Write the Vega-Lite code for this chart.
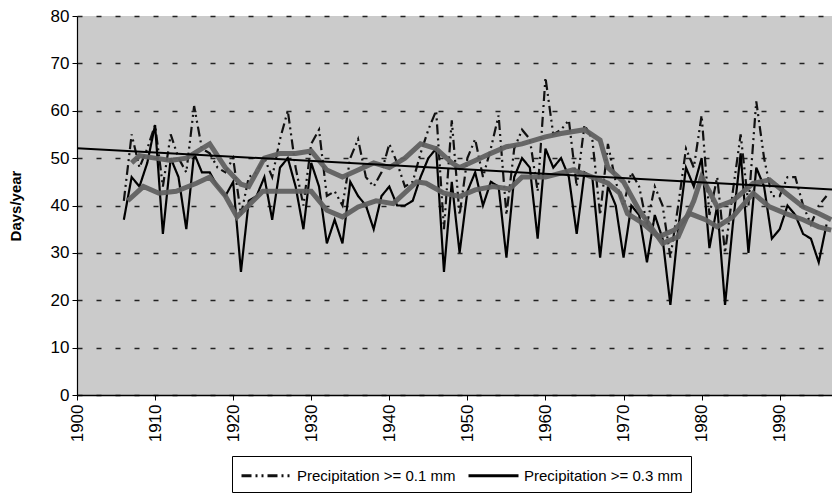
{
  "$schema": "https://vega.github.io/schema/vega-lite/v6.json",
  "width": 755,
  "height": 379,
  "autosize": {"type": "none"},
  "padding": {"left": 77, "top": 16, "right": 0, "bottom": 102},
  "background": "white",
  "view": {"fill": "#cbcbcb", "stroke": null},
  "config": {
    "font": "Liberation Sans",
    "axis": {"labelFont": "Liberation Sans", "labelFontSize": 17, "labelColor": "#000", "domainColor": "#000", "tickColor": "#000", "titleColor": "#000"}
  },
  "datasets": {
    "raw": [
      {"year":1906,"series":"Precipitation >= 0.1 mm","value":41},{"year":1907,"series":"Precipitation >= 0.1 mm","value":55},{"year":1908,"series":"Precipitation >= 0.1 mm","value":48},{"year":1909,"series":"Precipitation >= 0.1 mm","value":52},{"year":1910,"series":"Precipitation >= 0.1 mm","value":57},{"year":1911,"series":"Precipitation >= 0.1 mm","value":44},{"year":1912,"series":"Precipitation >= 0.1 mm","value":55},{"year":1913,"series":"Precipitation >= 0.1 mm","value":50},{"year":1914,"series":"Precipitation >= 0.1 mm","value":47},{"year":1915,"series":"Precipitation >= 0.1 mm","value":61},
      {"year":1916,"series":"Precipitation >= 0.1 mm","value":52},{"year":1917,"series":"Precipitation >= 0.1 mm","value":51},{"year":1918,"series":"Precipitation >= 0.1 mm","value":48},{"year":1919,"series":"Precipitation >= 0.1 mm","value":47},{"year":1920,"series":"Precipitation >= 0.1 mm","value":50},{"year":1921,"series":"Precipitation >= 0.1 mm","value":38},{"year":1922,"series":"Precipitation >= 0.1 mm","value":46},{"year":1923,"series":"Precipitation >= 0.1 mm","value":47},{"year":1924,"series":"Precipitation >= 0.1 mm","value":50},{"year":1925,"series":"Precipitation >= 0.1 mm","value":46},
      {"year":1926,"series":"Precipitation >= 0.1 mm","value":54},{"year":1927,"series":"Precipitation >= 0.1 mm","value":60},{"year":1928,"series":"Precipitation >= 0.1 mm","value":48},{"year":1929,"series":"Precipitation >= 0.1 mm","value":40},{"year":1930,"series":"Precipitation >= 0.1 mm","value":53},{"year":1931,"series":"Precipitation >= 0.1 mm","value":56},{"year":1932,"series":"Precipitation >= 0.1 mm","value":42},{"year":1933,"series":"Precipitation >= 0.1 mm","value":43},{"year":1934,"series":"Precipitation >= 0.1 mm","value":40},{"year":1935,"series":"Precipitation >= 0.1 mm","value":50},
      {"year":1936,"series":"Precipitation >= 0.1 mm","value":54},{"year":1937,"series":"Precipitation >= 0.1 mm","value":46},{"year":1938,"series":"Precipitation >= 0.1 mm","value":44},{"year":1939,"series":"Precipitation >= 0.1 mm","value":47},{"year":1940,"series":"Precipitation >= 0.1 mm","value":53},{"year":1941,"series":"Precipitation >= 0.1 mm","value":49},{"year":1942,"series":"Precipitation >= 0.1 mm","value":44},{"year":1943,"series":"Precipitation >= 0.1 mm","value":45},{"year":1944,"series":"Precipitation >= 0.1 mm","value":51},{"year":1945,"series":"Precipitation >= 0.1 mm","value":56},
      {"year":1946,"series":"Precipitation >= 0.1 mm","value":60},{"year":1947,"series":"Precipitation >= 0.1 mm","value":35},{"year":1948,"series":"Precipitation >= 0.1 mm","value":58},{"year":1949,"series":"Precipitation >= 0.1 mm","value":38},{"year":1950,"series":"Precipitation >= 0.1 mm","value":50},{"year":1951,"series":"Precipitation >= 0.1 mm","value":54},{"year":1952,"series":"Precipitation >= 0.1 mm","value":46},{"year":1953,"series":"Precipitation >= 0.1 mm","value":52},{"year":1954,"series":"Precipitation >= 0.1 mm","value":59},{"year":1955,"series":"Precipitation >= 0.1 mm","value":38},
      {"year":1956,"series":"Precipitation >= 0.1 mm","value":52},{"year":1957,"series":"Precipitation >= 0.1 mm","value":56},{"year":1958,"series":"Precipitation >= 0.1 mm","value":54},{"year":1959,"series":"Precipitation >= 0.1 mm","value":43},{"year":1960,"series":"Precipitation >= 0.1 mm","value":67},{"year":1961,"series":"Precipitation >= 0.1 mm","value":55},{"year":1962,"series":"Precipitation >= 0.1 mm","value":56},{"year":1963,"series":"Precipitation >= 0.1 mm","value":58},{"year":1964,"series":"Precipitation >= 0.1 mm","value":44},{"year":1965,"series":"Precipitation >= 0.1 mm","value":57},
      {"year":1966,"series":"Precipitation >= 0.1 mm","value":54},{"year":1967,"series":"Precipitation >= 0.1 mm","value":38},{"year":1968,"series":"Precipitation >= 0.1 mm","value":53},{"year":1969,"series":"Precipitation >= 0.1 mm","value":45},{"year":1970,"series":"Precipitation >= 0.1 mm","value":40},{"year":1971,"series":"Precipitation >= 0.1 mm","value":47},{"year":1972,"series":"Precipitation >= 0.1 mm","value":44},{"year":1973,"series":"Precipitation >= 0.1 mm","value":36},{"year":1974,"series":"Precipitation >= 0.1 mm","value":44},{"year":1975,"series":"Precipitation >= 0.1 mm","value":40},
      {"year":1976,"series":"Precipitation >= 0.1 mm","value":29},{"year":1977,"series":"Precipitation >= 0.1 mm","value":40},{"year":1978,"series":"Precipitation >= 0.1 mm","value":52},{"year":1979,"series":"Precipitation >= 0.1 mm","value":48},{"year":1980,"series":"Precipitation >= 0.1 mm","value":59},{"year":1981,"series":"Precipitation >= 0.1 mm","value":38},{"year":1982,"series":"Precipitation >= 0.1 mm","value":46},{"year":1983,"series":"Precipitation >= 0.1 mm","value":30},{"year":1984,"series":"Precipitation >= 0.1 mm","value":43},{"year":1985,"series":"Precipitation >= 0.1 mm","value":55},
      {"year":1986,"series":"Precipitation >= 0.1 mm","value":40},{"year":1987,"series":"Precipitation >= 0.1 mm","value":62},{"year":1988,"series":"Precipitation >= 0.1 mm","value":50},{"year":1989,"series":"Precipitation >= 0.1 mm","value":42},{"year":1990,"series":"Precipitation >= 0.1 mm","value":42},{"year":1991,"series":"Precipitation >= 0.1 mm","value":46},{"year":1992,"series":"Precipitation >= 0.1 mm","value":46},{"year":1993,"series":"Precipitation >= 0.1 mm","value":40},{"year":1994,"series":"Precipitation >= 0.1 mm","value":36},{"year":1995,"series":"Precipitation >= 0.1 mm","value":40},{"year":1996,"series":"Precipitation >= 0.1 mm","value":42},
      {"year":1906,"series":"Precipitation >= 0.3 mm","value":37},{"year":1907,"series":"Precipitation >= 0.3 mm","value":46},{"year":1908,"series":"Precipitation >= 0.3 mm","value":44},{"year":1909,"series":"Precipitation >= 0.3 mm","value":49},{"year":1910,"series":"Precipitation >= 0.3 mm","value":57},{"year":1911,"series":"Precipitation >= 0.3 mm","value":34},{"year":1912,"series":"Precipitation >= 0.3 mm","value":50},{"year":1913,"series":"Precipitation >= 0.3 mm","value":46},{"year":1914,"series":"Precipitation >= 0.3 mm","value":35},{"year":1915,"series":"Precipitation >= 0.3 mm","value":51},
      {"year":1916,"series":"Precipitation >= 0.3 mm","value":47},{"year":1917,"series":"Precipitation >= 0.3 mm","value":47},{"year":1918,"series":"Precipitation >= 0.3 mm","value":44},{"year":1919,"series":"Precipitation >= 0.3 mm","value":42},{"year":1920,"series":"Precipitation >= 0.3 mm","value":45},{"year":1921,"series":"Precipitation >= 0.3 mm","value":26},{"year":1922,"series":"Precipitation >= 0.3 mm","value":41},{"year":1923,"series":"Precipitation >= 0.3 mm","value":42},{"year":1924,"series":"Precipitation >= 0.3 mm","value":46},{"year":1925,"series":"Precipitation >= 0.3 mm","value":37},
      {"year":1926,"series":"Precipitation >= 0.3 mm","value":48},{"year":1927,"series":"Precipitation >= 0.3 mm","value":50},{"year":1928,"series":"Precipitation >= 0.3 mm","value":44},{"year":1929,"series":"Precipitation >= 0.3 mm","value":35},{"year":1930,"series":"Precipitation >= 0.3 mm","value":49},{"year":1931,"series":"Precipitation >= 0.3 mm","value":44},{"year":1932,"series":"Precipitation >= 0.3 mm","value":32},{"year":1933,"series":"Precipitation >= 0.3 mm","value":37},{"year":1934,"series":"Precipitation >= 0.3 mm","value":32},{"year":1935,"series":"Precipitation >= 0.3 mm","value":45},
      {"year":1936,"series":"Precipitation >= 0.3 mm","value":42},{"year":1937,"series":"Precipitation >= 0.3 mm","value":40},{"year":1938,"series":"Precipitation >= 0.3 mm","value":35},{"year":1939,"series":"Precipitation >= 0.3 mm","value":42},{"year":1940,"series":"Precipitation >= 0.3 mm","value":44},{"year":1941,"series":"Precipitation >= 0.3 mm","value":40},{"year":1942,"series":"Precipitation >= 0.3 mm","value":40},{"year":1943,"series":"Precipitation >= 0.3 mm","value":41},{"year":1944,"series":"Precipitation >= 0.3 mm","value":46},{"year":1945,"series":"Precipitation >= 0.3 mm","value":50},
      {"year":1946,"series":"Precipitation >= 0.3 mm","value":52},{"year":1947,"series":"Precipitation >= 0.3 mm","value":26},{"year":1948,"series":"Precipitation >= 0.3 mm","value":45},{"year":1949,"series":"Precipitation >= 0.3 mm","value":30},{"year":1950,"series":"Precipitation >= 0.3 mm","value":43},{"year":1951,"series":"Precipitation >= 0.3 mm","value":47},{"year":1952,"series":"Precipitation >= 0.3 mm","value":40},{"year":1953,"series":"Precipitation >= 0.3 mm","value":45},{"year":1954,"series":"Precipitation >= 0.3 mm","value":44},{"year":1955,"series":"Precipitation >= 0.3 mm","value":29},
      {"year":1956,"series":"Precipitation >= 0.3 mm","value":46},{"year":1957,"series":"Precipitation >= 0.3 mm","value":50},{"year":1958,"series":"Precipitation >= 0.3 mm","value":48},{"year":1959,"series":"Precipitation >= 0.3 mm","value":33},{"year":1960,"series":"Precipitation >= 0.3 mm","value":52},{"year":1961,"series":"Precipitation >= 0.3 mm","value":48},{"year":1962,"series":"Precipitation >= 0.3 mm","value":50},{"year":1963,"series":"Precipitation >= 0.3 mm","value":46},{"year":1964,"series":"Precipitation >= 0.3 mm","value":34},{"year":1965,"series":"Precipitation >= 0.3 mm","value":47},
      {"year":1966,"series":"Precipitation >= 0.3 mm","value":46},{"year":1967,"series":"Precipitation >= 0.3 mm","value":29},{"year":1968,"series":"Precipitation >= 0.3 mm","value":44},{"year":1969,"series":"Precipitation >= 0.3 mm","value":40},{"year":1970,"series":"Precipitation >= 0.3 mm","value":29},{"year":1971,"series":"Precipitation >= 0.3 mm","value":40},{"year":1972,"series":"Precipitation >= 0.3 mm","value":38},{"year":1973,"series":"Precipitation >= 0.3 mm","value":28},{"year":1974,"series":"Precipitation >= 0.3 mm","value":38},{"year":1975,"series":"Precipitation >= 0.3 mm","value":33},
      {"year":1976,"series":"Precipitation >= 0.3 mm","value":19},{"year":1977,"series":"Precipitation >= 0.3 mm","value":35},{"year":1978,"series":"Precipitation >= 0.3 mm","value":48},{"year":1979,"series":"Precipitation >= 0.3 mm","value":44},{"year":1980,"series":"Precipitation >= 0.3 mm","value":50},{"year":1981,"series":"Precipitation >= 0.3 mm","value":31},{"year":1982,"series":"Precipitation >= 0.3 mm","value":40},{"year":1983,"series":"Precipitation >= 0.3 mm","value":19},{"year":1984,"series":"Precipitation >= 0.3 mm","value":36},{"year":1985,"series":"Precipitation >= 0.3 mm","value":51},
      {"year":1986,"series":"Precipitation >= 0.3 mm","value":30},{"year":1987,"series":"Precipitation >= 0.3 mm","value":48},{"year":1988,"series":"Precipitation >= 0.3 mm","value":44},{"year":1989,"series":"Precipitation >= 0.3 mm","value":33},{"year":1990,"series":"Precipitation >= 0.3 mm","value":35},{"year":1991,"series":"Precipitation >= 0.3 mm","value":40},{"year":1992,"series":"Precipitation >= 0.3 mm","value":38},{"year":1993,"series":"Precipitation >= 0.3 mm","value":34},{"year":1994,"series":"Precipitation >= 0.3 mm","value":33},{"year":1995,"series":"Precipitation >= 0.3 mm","value":28},{"year":1996,"series":"Precipitation >= 0.3 mm","value":36}
    ],
    "smooth": [
      {"year":1907,"s":"upper","value":49},{"year":1908,"s":"upper","value":50.5},{"year":1910,"s":"upper","value":50},{"year":1912,"s":"upper","value":49.5},{"year":1914,"s":"upper","value":50},{"year":1915,"s":"upper","value":51},{"year":1917,"s":"upper","value":53},{"year":1919,"s":"upper","value":48},{"year":1921,"s":"upper","value":44.5},{"year":1922,"s":"upper","value":44},{"year":1924,"s":"upper","value":50},{"year":1926,"s":"upper","value":51},{"year":1928,"s":"upper","value":51},{"year":1930,"s":"upper","value":51.5},{"year":1932,"s":"upper","value":47.5},{"year":1934,"s":"upper","value":46},{"year":1936,"s":"upper","value":47.5},{"year":1938,"s":"upper","value":49},{"year":1940,"s":"upper","value":48},{"year":1942,"s":"upper","value":50},{"year":1944,"s":"upper","value":53},{"year":1946,"s":"upper","value":52},{"year":1948,"s":"upper","value":49},{"year":1949,"s":"upper","value":48},{"year":1951,"s":"upper","value":49.5},{"year":1953,"s":"upper","value":51},{"year":1955,"s":"upper","value":52.4},{"year":1957,"s":"upper","value":53},{"year":1960,"s":"upper","value":54.5},{"year":1962,"s":"upper","value":55.2},{"year":1965,"s":"upper","value":56},{"year":1967,"s":"upper","value":53.8},{"year":1968,"s":"upper","value":48},{"year":1970,"s":"upper","value":45},{"year":1972,"s":"upper","value":39},{"year":1975,"s":"upper","value":32},{"year":1977,"s":"upper","value":33.4},{"year":1979,"s":"upper","value":41},{"year":1980,"s":"upper","value":46},{"year":1981,"s":"upper","value":43},{"year":1982,"s":"upper","value":39.7},{"year":1984,"s":"upper","value":41},{"year":1986.6,"s":"upper","value":44.7},{"year":1988.7,"s":"upper","value":45.4},{"year":1990.8,"s":"upper","value":42.6},{"year":1993,"s":"upper","value":39.7},{"year":1995,"s":"upper","value":38.3},{"year":1996.6,"s":"upper","value":37},
      {"year":1906.5,"s":"lower","value":41},{"year":1908.5,"s":"lower","value":44},{"year":1910.5,"s":"lower","value":42.6},{"year":1912.7,"s":"lower","value":43},{"year":1915.3,"s":"lower","value":44.7},{"year":1917,"s":"lower","value":46},{"year":1919,"s":"lower","value":42},{"year":1920.5,"s":"lower","value":37.6},{"year":1923.8,"s":"lower","value":43},{"year":1927.7,"s":"lower","value":43},{"year":1930,"s":"lower","value":43},{"year":1932,"s":"lower","value":39},{"year":1934,"s":"lower","value":37.6},{"year":1936,"s":"lower","value":39.7},{"year":1938.3,"s":"lower","value":41},{"year":1940.5,"s":"lower","value":40.4},{"year":1943.5,"s":"lower","value":45},{"year":1944.7,"s":"lower","value":44.7},{"year":1947,"s":"lower","value":42.6},{"year":1949,"s":"lower","value":41.9},{"year":1951,"s":"lower","value":43.3},{"year":1953.3,"s":"lower","value":44},{"year":1955.4,"s":"lower","value":43.5},{"year":1957,"s":"lower","value":46},{"year":1960,"s":"lower","value":46},{"year":1963.5,"s":"lower","value":47.5},{"year":1966,"s":"lower","value":46},{"year":1968,"s":"lower","value":44.7},{"year":1969.5,"s":"lower","value":42.6},{"year":1970.5,"s":"lower","value":38.3},{"year":1972.5,"s":"lower","value":36.2},{"year":1974.5,"s":"lower","value":33.4},{"year":1976.5,"s":"lower","value":34.8},{"year":1978.5,"s":"lower","value":38.3},{"year":1980.5,"s":"lower","value":37},{"year":1982,"s":"lower","value":35.5},{"year":1984,"s":"lower","value":37.6},{"year":1986.6,"s":"lower","value":42.6},{"year":1988.7,"s":"lower","value":39.7},{"year":1990.8,"s":"lower","value":38.3},{"year":1993,"s":"lower","value":37},{"year":1995,"s":"lower","value":35.5},{"year":1996.6,"s":"lower","value":34.8}
    ],
    "trend": [
      {"year":1900,"value":52.1},{"year":1996.7,"value":43.4}
    ]
  },
  "encoding": {
    "x": {
      "field": "year", "type": "quantitative",
      "scale": {"domain": [1900, 1996.7], "nice": false, "zero": false},
      "axis": {"values": [1900,1910,1920,1930,1940,1950,1960,1970,1980,1990], "format": "d", "labelAngle": 270, "labelAlign": "right", "labelBaseline": "middle", "tickSize": 5, "labelPadding": 4, "grid": false, "title": null, "domainWidth": 1.5}
    },
    "y": {
      "field": "value", "type": "quantitative",
      "scale": {"domain": [0, 80], "nice": false},
      "axis": {"values": [0,10,20,30,40,50,60,70,80], "tickSize": 5, "labelPadding": 3, "grid": true, "gridDash": [5, 14], "gridColor": "#222", "gridWidth": 1.3, "title": "Days/year", "titleFont": "Liberation Sans", "titleFontSize": 15, "titleFontWeight": "bold", "titlePadding": 27, "domainWidth": 1.2}
    }
  },
  "layer": [
    {
      "data": {"name": "raw"},
      "mark": {"type": "line", "strokeWidth": 2.2, "clip": true},
      "encoding": {
        "color": {"field": "series", "type": "nominal", "scale": {"domain": ["Precipitation >= 0.1 mm", "Precipitation >= 0.3 mm"], "range": ["#111111", "#000000"]},
          "legend": {"title": null, "orient": "none", "legendX": 155, "legendY": 440, "direction": "horizontal", "symbolType": "M-2.5,0H2.5", "symbolSize": 400, "symbolOffset": 15, "labelOffset": 19, "symbolStrokeWidth": 3, "labelFontSize": 15, "labelFont": "Liberation Sans", "labelColor": "#000", "labelLimit": 400, "strokeColor": "#000", "fillColor": "#fff", "padding": 8, "columnPadding": 6}},
        "strokeDash": {"field": "series", "type": "nominal", "scale": {"domain": ["Precipitation >= 0.1 mm", "Precipitation >= 0.3 mm"], "range": [[10, 4, 2, 4, 2, 4], [1, 0]]},
          "legend": {"title": null, "orient": "none", "legendX": 155, "legendY": 440, "direction": "horizontal", "symbolType": "M-2.5,0H2.5", "symbolSize": 400, "symbolOffset": 15, "labelOffset": 19, "symbolStrokeWidth": 3, "labelFontSize": 15, "labelFont": "Liberation Sans", "labelColor": "#000", "labelLimit": 400, "strokeColor": "#000", "fillColor": "#fff", "padding": 8, "columnPadding": 6}}
      }
    },
    {
      "data": {"name": "smooth"},
      "mark": {"type": "line", "strokeWidth": 5, "color": "#606060", "opacity": 0.95, "clip": true},
      "encoding": {"detail": {"field": "s", "type": "nominal"}}
    },
    {
      "data": {"name": "trend"},
      "mark": {"type": "line", "strokeWidth": 2, "color": "#000", "clip": true},
      "encoding": {}
    }
  ]
}
